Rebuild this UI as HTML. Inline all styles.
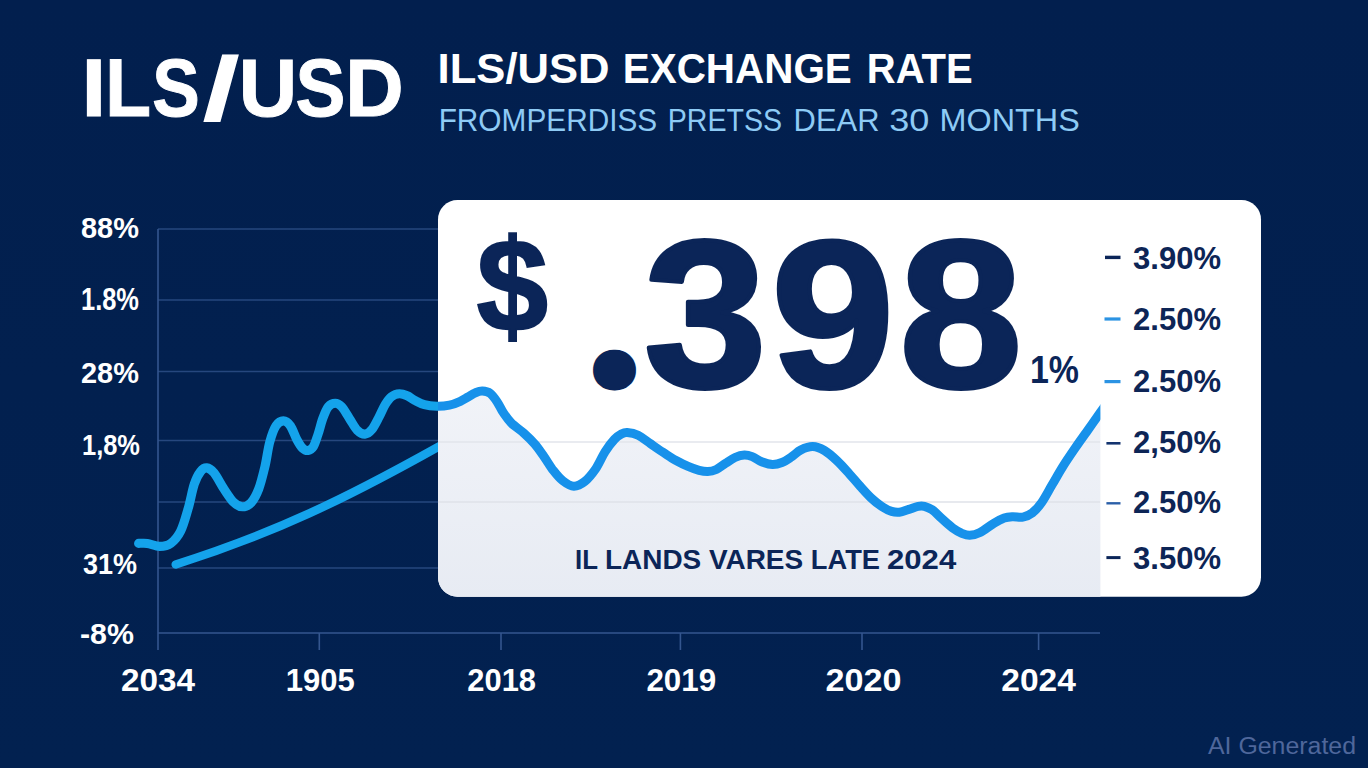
<!DOCTYPE html>
<html lang="en">
<head>
<meta charset="utf-8">
<title>ILS/USD Exchange Rate</title>
<style>
  html, body { margin: 0; padding: 0; background: #02204f; }
  body { width: 1368px; height: 768px; overflow: hidden; }
  svg { display: block; }
  text { font-family: "Liberation Sans", sans-serif; }
  .b { font-weight: 700; }
</style>
</head>
<body>
<svg width="1368" height="768" viewBox="0 0 1368 768">
  <defs>
    <linearGradient id="bg" x1="0" y1="0" x2="0" y2="1">
      <stop offset="0" stop-color="#021f4e"/>
      <stop offset="1" stop-color="#022150"/>
    </linearGradient>
    <linearGradient id="area" x1="0" y1="0" x2="0" y2="1">
      <stop offset="0" stop-color="#f1f3f8"/>
      <stop offset="1" stop-color="#e7ebf3"/>
    </linearGradient>
    <clipPath id="leftclip"><rect x="0" y="0" width="438" height="768"/></clipPath>
    <clipPath id="rightclip"><rect x="438" y="200" width="662.4" height="397"/></clipPath>
    <clipPath id="panelclip"><rect x="438" y="200" width="823" height="396.8" rx="19.5" ry="19.5"/></clipPath>
  </defs>
  <rect width="1368" height="768" fill="url(#bg)"/>

  <!-- headings -->
  <text class="b" fill="#ffffff" stroke="#ffffff" stroke-width="1"><tspan x="81.48" y="116" font-size="82" textLength="24.71" lengthAdjust="spacingAndGlyphs">I</tspan><tspan x="105.13" y="116" font-size="82" textLength="45.78" lengthAdjust="spacingAndGlyphs">L</tspan><tspan x="152.26" y="116" font-size="82" textLength="47.47" lengthAdjust="spacingAndGlyphs">S</tspan><tspan x="203.0" y="119.6" font-size="89.5" textLength="36.26" lengthAdjust="spacingAndGlyphs">/</tspan><tspan x="238.75" y="116" font-size="82" textLength="58.4" lengthAdjust="spacingAndGlyphs">U</tspan><tspan x="295.58" y="116" font-size="82" textLength="49.88" lengthAdjust="spacingAndGlyphs">S</tspan><tspan x="345.37" y="116" font-size="82" textLength="58.4" lengthAdjust="spacingAndGlyphs">D</tspan></text>
  <text class="b" y="83" font-size="42" fill="#ffffff"><tspan x="437.62" textLength="171.96" lengthAdjust="spacingAndGlyphs">ILS/USD</tspan> <tspan x="622.78" textLength="229.0" lengthAdjust="spacingAndGlyphs">EXCHANGE</tspan> <tspan x="866.79" textLength="105.97" lengthAdjust="spacingAndGlyphs">RATE</tspan></text>
  <text y="130.5" font-size="32" fill="#8ecbf5"><tspan x="438.64" textLength="218.61" lengthAdjust="spacingAndGlyphs">FROMPERDISS</tspan> <tspan x="667.71" textLength="114.49" lengthAdjust="spacingAndGlyphs">PRETSS</tspan> <tspan x="793.57" textLength="85.9" lengthAdjust="spacingAndGlyphs">DEAR</tspan> <tspan x="889.17" textLength="40.13" lengthAdjust="spacingAndGlyphs">30</tspan> <tspan x="939.58" textLength="140.18" lengthAdjust="spacingAndGlyphs">MONTHS</tspan></text>

  <!-- grid -->
  <g stroke="#26477e" stroke-width="1.4" fill="none">
    <line x1="158" y1="229" x2="438" y2="229"/>
    <line x1="158" y1="300" x2="438" y2="300"/>
    <line x1="158" y1="371.5" x2="438" y2="371.5"/>
    <line x1="158" y1="440.5" x2="438" y2="440.5"/>
    <line x1="158" y1="502" x2="438" y2="502"/>
    <line x1="158" y1="568" x2="438" y2="568"/>
  </g>
  <g stroke="#34568f" stroke-width="1.6" fill="none">
    <line x1="158" y1="229" x2="158" y2="650"/>
    <line x1="158" y1="633" x2="1100" y2="633"/>
    <line x1="319.3" y1="633" x2="319.3" y2="650"/>
    <line x1="501" y1="633" x2="501" y2="650"/>
    <line x1="680.4" y1="633" x2="680.4" y2="650"/>
    <line x1="862" y1="633" x2="862" y2="650"/>
    <line x1="1038.6" y1="633" x2="1038.6" y2="650"/>
  </g>

  <!-- y labels -->
  <g class="b" font-size="29" fill="#ffffff">
    <text x="81" y="238" textLength="58" lengthAdjust="spacingAndGlyphs">88%</text>
    <text x="81" y="310" font-size="30.5" textLength="58" lengthAdjust="spacingAndGlyphs">1.8%</text>
    <text x="81" y="383" textLength="58" lengthAdjust="spacingAndGlyphs">28%</text>
    <text x="82" y="455" textLength="58" lengthAdjust="spacingAndGlyphs">1,8%</text>
    <text x="83" y="573.5" textLength="54" lengthAdjust="spacingAndGlyphs">31%</text>
    <text x="80" y="644" textLength="54" lengthAdjust="spacingAndGlyphs">-8%</text>
  </g>

  <!-- x labels -->
  <g class="b" font-size="31" fill="#ffffff">
    <text x="121" y="691" textLength="74" lengthAdjust="spacingAndGlyphs">2034</text>
    <text x="285.7" y="691" textLength="69" lengthAdjust="spacingAndGlyphs">1905</text>
    <text x="467.3" y="691" textLength="68.7" lengthAdjust="spacingAndGlyphs">2018</text>
    <text x="646.4" y="691" textLength="69.8" lengthAdjust="spacingAndGlyphs">2019</text>
    <text x="825.5" y="691" textLength="76" lengthAdjust="spacingAndGlyphs">2020</text>
    <text x="1001.3" y="691" textLength="74.6" lengthAdjust="spacingAndGlyphs">2024</text>
  </g>

  <!-- lines left of panel -->
  <path id="trend" d="M175.7 564.5 C275 533 345 499 438 447 L446 442.6" stroke="#14a3eb" stroke-width="8.4" fill="none" stroke-linecap="round"/>

  <!-- panel -->
  <rect x="438" y="200" width="823" height="396.8" rx="19.5" ry="19.5" fill="#ffffff"/>
  <g clip-path="url(#panelclip)">
    <path d="M424.4 404.7 C426.5 405.0 432.7 406.2 436.9 406.3 C441.1 406.4 445.5 406.0 449.4 405.2 C453.3 404.4 457.2 402.7 460.3 401.3 C463.4 399.9 465.5 398.4 468.0 397.0 C470.5 395.6 472.9 393.8 475.3 392.8 C477.7 391.8 479.8 390.9 482.3 391.0 C484.8 391.1 487.7 391.5 490.2 393.3 C492.7 395.1 495.0 398.6 497.2 401.9 C499.4 405.1 501.0 409.3 503.4 412.8 C505.8 416.3 507.9 419.6 511.3 423.0 C514.7 426.4 519.9 429.6 523.8 433.1 C527.7 436.6 531.3 440.1 534.7 444.0 C538.1 447.9 540.9 452.2 544.0 456.6 C547.1 461.0 550.3 466.6 553.4 470.6 C556.5 474.6 559.4 478.2 562.8 480.8 C566.2 483.4 570.1 486.2 573.8 486.3 C577.4 486.4 581.1 484.5 584.7 481.6 C588.3 478.7 592.2 473.9 595.6 469.0 C599.0 464.1 601.9 456.8 605.0 451.9 C608.1 447.0 611.7 442.3 614.4 439.4 C617.1 436.4 618.9 435.3 621.0 434.2 C623.1 433.1 624.4 432.3 627.2 432.5 C630.1 432.7 634.2 433.3 638.1 435.2 C642.0 437.1 646.4 440.9 650.6 443.8 C654.8 446.7 658.9 449.6 663.1 452.3 C667.3 455.0 671.4 457.9 675.6 460.2 C679.8 462.5 684.2 464.7 688.1 466.4 C692.0 468.1 695.8 469.4 699.1 470.3 C702.4 471.2 704.8 471.7 707.7 471.6 C710.6 471.5 713.3 470.9 716.3 469.5 C719.3 468.1 722.5 465.3 725.6 463.3 C728.7 461.3 731.9 458.9 735.0 457.5 C738.1 456.1 741.5 455.1 744.4 455.0 C747.3 454.9 749.3 455.5 752.2 456.6 C755.1 457.7 758.2 460.4 761.6 461.7 C765.0 463.0 769.1 464.3 772.5 464.4 C775.9 464.5 778.8 463.7 781.9 462.5 C785.0 461.3 788.1 459.1 791.3 457.0 C794.5 454.9 797.4 451.6 801.0 449.9 C804.6 448.2 808.8 446.5 812.7 446.6 C816.6 446.7 820.4 448.2 824.4 450.5 C828.4 452.8 832.7 456.7 836.9 460.6 C841.1 464.5 845.5 469.6 849.4 473.9 C853.3 478.2 856.6 482.4 860.3 486.4 C863.9 490.4 867.6 494.7 871.3 498.1 C874.9 501.5 878.8 504.5 882.2 506.7 C885.6 508.9 888.7 510.5 891.6 511.4 C894.5 512.3 896.5 512.5 899.4 512.2 C902.3 511.9 905.7 510.4 908.8 509.4 C911.9 508.4 915.5 506.8 918.1 506.3 C920.7 505.8 922.0 505.7 924.4 506.3 C926.8 506.9 929.3 507.8 932.2 509.8 C935.1 511.8 938.2 515.4 941.6 518.4 C945.0 521.4 949.1 525.3 952.5 527.8 C955.9 530.3 959.0 532.0 961.9 533.3 C964.8 534.5 966.7 535.4 969.7 535.3 C972.7 535.2 976.0 534.5 980.0 532.5 C984.0 530.5 989.8 525.7 993.8 523.3 C997.8 520.9 1001.1 519.2 1004.2 518.1 C1007.3 517.0 1009.4 516.9 1012.5 516.7 C1015.6 516.5 1019.6 517.7 1022.9 517.1 C1026.2 516.5 1029.2 515.3 1032.3 512.9 C1035.4 510.5 1038.4 507.2 1041.7 502.5 C1045.0 497.8 1048.6 490.7 1052.1 484.8 C1055.6 478.9 1058.7 473.2 1062.5 467.1 C1066.3 461.0 1070.8 454.4 1075.0 448.3 C1079.2 442.2 1083.3 436.5 1087.5 430.6 C1091.7 424.7 1096.2 418.2 1100.0 412.9 C1103.8 407.6 1108.3 401.1 1110.0 398.7 L1110 600 L424.4 600 Z" fill="url(#area)" clip-path="url(#rightclip)"/>
    <line x1="438" y1="442" x2="1100" y2="442" stroke="#e2e4eb" stroke-width="1.3"/>
    <line x1="438" y1="502" x2="1100" y2="502" stroke="#dfe2e9" stroke-width="1.3"/>
  </g>

  <!-- main wavy line -->
  <path d="M138.6 543.4 C140.1 543.4 143.8 542.9 147.3 543.4 C150.8 543.9 155.8 546.4 159.7 546.4 C163.6 546.4 167.3 546.0 170.8 543.4 C174.3 540.8 177.8 536.8 180.7 531.0 C183.6 525.2 185.8 516.6 188.1 508.8 C190.4 501.0 192.2 490.2 194.3 484.0 C196.4 477.8 198.4 474.3 200.5 471.6 C202.6 468.9 204.4 467.7 206.7 467.9 C209.0 468.1 211.2 469.4 214.1 472.9 C217.0 476.4 220.7 484.1 224.0 489.0 C227.3 493.9 230.8 499.6 233.9 502.6 C237.0 505.6 239.7 506.8 242.6 506.8 C245.5 506.8 248.5 505.6 251.2 502.6 C253.9 499.6 256.4 495.0 258.7 489.0 C261.0 483.0 263.0 474.6 264.9 466.7 C266.8 458.8 267.9 448.7 269.8 441.9 C271.7 435.1 273.7 429.3 276.0 425.8 C278.3 422.3 281.0 420.9 283.4 420.9 C285.8 420.9 288.3 422.9 290.5 426.0 C292.7 429.1 294.8 435.8 296.8 439.5 C298.8 443.2 300.6 446.3 302.5 448.1 C304.4 449.9 306.2 450.8 308.0 450.5 C309.8 450.2 311.7 449.3 313.4 446.6 C315.1 443.9 316.5 438.8 318.1 434.1 C319.7 429.4 321.1 423.0 322.8 418.4 C324.5 413.8 326.2 409.2 328.3 406.7 C330.4 404.2 333.1 403.3 335.3 403.3 C337.5 403.3 339.2 404.2 341.6 406.7 C344.0 409.2 346.8 414.5 349.4 418.4 C352.0 422.3 354.6 427.6 357.2 430.2 C359.8 432.8 362.5 434.2 365.0 434.1 C367.5 434.0 369.6 432.3 372.0 429.4 C374.4 426.5 376.9 421.1 379.1 416.9 C381.3 412.7 383.2 407.8 385.3 404.4 C387.4 401.0 389.2 398.4 391.6 396.6 C394.0 394.8 396.8 393.9 399.4 393.8 C402.0 393.7 404.6 394.7 407.2 395.8 C409.8 396.9 412.1 399.0 415.0 400.5 C417.9 402.0 420.8 403.7 424.4 404.7 C428.0 405.7 432.7 406.2 436.9 406.3 C441.1 406.4 445.5 406.0 449.4 405.2 C453.3 404.4 457.2 402.7 460.3 401.3 C463.4 399.9 465.5 398.4 468.0 397.0 C470.5 395.6 472.9 393.8 475.3 392.8 C477.7 391.8 479.8 390.9 482.3 391.0 C484.8 391.1 487.7 391.5 490.2 393.3 C492.7 395.1 495.0 398.6 497.2 401.9 C499.4 405.1 501.0 409.3 503.4 412.8 C505.8 416.3 507.9 419.6 511.3 423.0 C514.7 426.4 519.9 429.6 523.8 433.1 C527.7 436.6 531.3 440.1 534.7 444.0 C538.1 447.9 540.9 452.2 544.0 456.6 C547.1 461.0 550.3 466.6 553.4 470.6 C556.5 474.6 559.4 478.2 562.8 480.8 C566.2 483.4 570.1 486.2 573.8 486.3 C577.4 486.4 581.1 484.5 584.7 481.6 C588.3 478.7 592.2 473.9 595.6 469.0 C599.0 464.1 601.9 456.8 605.0 451.9 C608.1 447.0 611.7 442.3 614.4 439.4 C617.1 436.4 618.9 435.3 621.0 434.2 C623.1 433.1 624.4 432.3 627.2 432.5 C630.1 432.7 634.2 433.3 638.1 435.2 C642.0 437.1 646.4 440.9 650.6 443.8 C654.8 446.7 658.9 449.6 663.1 452.3 C667.3 455.0 671.4 457.9 675.6 460.2 C679.8 462.5 684.2 464.7 688.1 466.4 C692.0 468.1 695.8 469.4 699.1 470.3 C702.4 471.2 704.8 471.7 707.7 471.6 C710.6 471.5 713.3 470.9 716.3 469.5 C719.3 468.1 722.5 465.3 725.6 463.3 C728.7 461.3 731.9 458.9 735.0 457.5 C738.1 456.1 741.5 455.1 744.4 455.0 C747.3 454.9 749.3 455.5 752.2 456.6 C755.1 457.7 758.2 460.4 761.6 461.7 C765.0 463.0 769.1 464.3 772.5 464.4 C775.9 464.5 778.8 463.7 781.9 462.5 C785.0 461.3 788.1 459.1 791.3 457.0 C794.5 454.9 797.4 451.6 801.0 449.9 C804.6 448.2 808.8 446.5 812.7 446.6 C816.6 446.7 820.4 448.2 824.4 450.5 C828.4 452.8 832.7 456.7 836.9 460.6 C841.1 464.5 845.5 469.6 849.4 473.9 C853.3 478.2 856.6 482.4 860.3 486.4 C863.9 490.4 867.6 494.7 871.3 498.1 C874.9 501.5 878.8 504.5 882.2 506.7 C885.6 508.9 888.7 510.5 891.6 511.4 C894.5 512.3 896.5 512.5 899.4 512.2 C902.3 511.9 905.7 510.4 908.8 509.4 C911.9 508.4 915.5 506.8 918.1 506.3 C920.7 505.8 922.0 505.7 924.4 506.3 C926.8 506.9 929.3 507.8 932.2 509.8 C935.1 511.8 938.2 515.4 941.6 518.4 C945.0 521.4 949.1 525.3 952.5 527.8 C955.9 530.3 959.0 532.0 961.9 533.3 C964.8 534.5 966.7 535.4 969.7 535.3 C972.7 535.2 976.0 534.5 980.0 532.5 C984.0 530.5 989.8 525.7 993.8 523.3 C997.8 520.9 1001.1 519.2 1004.2 518.1 C1007.3 517.0 1009.4 516.9 1012.5 516.7 C1015.6 516.5 1019.6 517.7 1022.9 517.1 C1026.2 516.5 1029.2 515.3 1032.3 512.9 C1035.4 510.5 1038.4 507.2 1041.7 502.5 C1045.0 497.8 1048.6 490.7 1052.1 484.8 C1055.6 478.9 1058.7 473.2 1062.5 467.1 C1066.3 461.0 1070.8 454.4 1075.0 448.3 C1079.2 442.2 1083.3 436.5 1087.5 430.6 C1091.7 424.7 1096.2 418.2 1100.0 412.9 C1103.8 407.6 1108.3 401.1 1110.0 398.7" stroke="#14a3eb" stroke-width="9.1" fill="none" stroke-linecap="round" stroke-linejoin="round" clip-path="url(#leftclip)"/>
  <path d="M138.6 543.4 C140.1 543.4 143.8 542.9 147.3 543.4 C150.8 543.9 155.8 546.4 159.7 546.4 C163.6 546.4 167.3 546.0 170.8 543.4 C174.3 540.8 177.8 536.8 180.7 531.0 C183.6 525.2 185.8 516.6 188.1 508.8 C190.4 501.0 192.2 490.2 194.3 484.0 C196.4 477.8 198.4 474.3 200.5 471.6 C202.6 468.9 204.4 467.7 206.7 467.9 C209.0 468.1 211.2 469.4 214.1 472.9 C217.0 476.4 220.7 484.1 224.0 489.0 C227.3 493.9 230.8 499.6 233.9 502.6 C237.0 505.6 239.7 506.8 242.6 506.8 C245.5 506.8 248.5 505.6 251.2 502.6 C253.9 499.6 256.4 495.0 258.7 489.0 C261.0 483.0 263.0 474.6 264.9 466.7 C266.8 458.8 267.9 448.7 269.8 441.9 C271.7 435.1 273.7 429.3 276.0 425.8 C278.3 422.3 281.0 420.9 283.4 420.9 C285.8 420.9 288.3 422.9 290.5 426.0 C292.7 429.1 294.8 435.8 296.8 439.5 C298.8 443.2 300.6 446.3 302.5 448.1 C304.4 449.9 306.2 450.8 308.0 450.5 C309.8 450.2 311.7 449.3 313.4 446.6 C315.1 443.9 316.5 438.8 318.1 434.1 C319.7 429.4 321.1 423.0 322.8 418.4 C324.5 413.8 326.2 409.2 328.3 406.7 C330.4 404.2 333.1 403.3 335.3 403.3 C337.5 403.3 339.2 404.2 341.6 406.7 C344.0 409.2 346.8 414.5 349.4 418.4 C352.0 422.3 354.6 427.6 357.2 430.2 C359.8 432.8 362.5 434.2 365.0 434.1 C367.5 434.0 369.6 432.3 372.0 429.4 C374.4 426.5 376.9 421.1 379.1 416.9 C381.3 412.7 383.2 407.8 385.3 404.4 C387.4 401.0 389.2 398.4 391.6 396.6 C394.0 394.8 396.8 393.9 399.4 393.8 C402.0 393.7 404.6 394.7 407.2 395.8 C409.8 396.9 412.1 399.0 415.0 400.5 C417.9 402.0 420.8 403.7 424.4 404.7 C428.0 405.7 432.7 406.2 436.9 406.3 C441.1 406.4 445.5 406.0 449.4 405.2 C453.3 404.4 457.2 402.7 460.3 401.3 C463.4 399.9 465.5 398.4 468.0 397.0 C470.5 395.6 472.9 393.8 475.3 392.8 C477.7 391.8 479.8 390.9 482.3 391.0 C484.8 391.1 487.7 391.5 490.2 393.3 C492.7 395.1 495.0 398.6 497.2 401.9 C499.4 405.1 501.0 409.3 503.4 412.8 C505.8 416.3 507.9 419.6 511.3 423.0 C514.7 426.4 519.9 429.6 523.8 433.1 C527.7 436.6 531.3 440.1 534.7 444.0 C538.1 447.9 540.9 452.2 544.0 456.6 C547.1 461.0 550.3 466.6 553.4 470.6 C556.5 474.6 559.4 478.2 562.8 480.8 C566.2 483.4 570.1 486.2 573.8 486.3 C577.4 486.4 581.1 484.5 584.7 481.6 C588.3 478.7 592.2 473.9 595.6 469.0 C599.0 464.1 601.9 456.8 605.0 451.9 C608.1 447.0 611.7 442.3 614.4 439.4 C617.1 436.4 618.9 435.3 621.0 434.2 C623.1 433.1 624.4 432.3 627.2 432.5 C630.1 432.7 634.2 433.3 638.1 435.2 C642.0 437.1 646.4 440.9 650.6 443.8 C654.8 446.7 658.9 449.6 663.1 452.3 C667.3 455.0 671.4 457.9 675.6 460.2 C679.8 462.5 684.2 464.7 688.1 466.4 C692.0 468.1 695.8 469.4 699.1 470.3 C702.4 471.2 704.8 471.7 707.7 471.6 C710.6 471.5 713.3 470.9 716.3 469.5 C719.3 468.1 722.5 465.3 725.6 463.3 C728.7 461.3 731.9 458.9 735.0 457.5 C738.1 456.1 741.5 455.1 744.4 455.0 C747.3 454.9 749.3 455.5 752.2 456.6 C755.1 457.7 758.2 460.4 761.6 461.7 C765.0 463.0 769.1 464.3 772.5 464.4 C775.9 464.5 778.8 463.7 781.9 462.5 C785.0 461.3 788.1 459.1 791.3 457.0 C794.5 454.9 797.4 451.6 801.0 449.9 C804.6 448.2 808.8 446.5 812.7 446.6 C816.6 446.7 820.4 448.2 824.4 450.5 C828.4 452.8 832.7 456.7 836.9 460.6 C841.1 464.5 845.5 469.6 849.4 473.9 C853.3 478.2 856.6 482.4 860.3 486.4 C863.9 490.4 867.6 494.7 871.3 498.1 C874.9 501.5 878.8 504.5 882.2 506.7 C885.6 508.9 888.7 510.5 891.6 511.4 C894.5 512.3 896.5 512.5 899.4 512.2 C902.3 511.9 905.7 510.4 908.8 509.4 C911.9 508.4 915.5 506.8 918.1 506.3 C920.7 505.8 922.0 505.7 924.4 506.3 C926.8 506.9 929.3 507.8 932.2 509.8 C935.1 511.8 938.2 515.4 941.6 518.4 C945.0 521.4 949.1 525.3 952.5 527.8 C955.9 530.3 959.0 532.0 961.9 533.3 C964.8 534.5 966.7 535.4 969.7 535.3 C972.7 535.2 976.0 534.5 980.0 532.5 C984.0 530.5 989.8 525.7 993.8 523.3 C997.8 520.9 1001.1 519.2 1004.2 518.1 C1007.3 517.0 1009.4 516.9 1012.5 516.7 C1015.6 516.5 1019.6 517.7 1022.9 517.1 C1026.2 516.5 1029.2 515.3 1032.3 512.9 C1035.4 510.5 1038.4 507.2 1041.7 502.5 C1045.0 497.8 1048.6 490.7 1052.1 484.8 C1055.6 478.9 1058.7 473.2 1062.5 467.1 C1066.3 461.0 1070.8 454.4 1075.0 448.3 C1079.2 442.2 1083.3 436.5 1087.5 430.6 C1091.7 424.7 1096.2 418.2 1100.0 412.9 C1103.8 407.6 1108.3 401.1 1110.0 398.7" stroke="#1791ea" stroke-width="9" fill="none" stroke-linecap="round" stroke-linejoin="round" clip-path="url(#rightclip)"/>

  <!-- big number -->
  <g class="b" fill="#0b2558">
    <text x="476.52" y="330.6" font-size="131.5" stroke="#0b2558" stroke-width="2" textLength="71.59" lengthAdjust="spacingAndGlyphs">$</text>
    <text y="387" font-size="209" transform="scale(1.06,1)" stroke="#0b2558" stroke-width="4" stroke-linejoin="round"><tspan x="578.3" y="370.7" font-size="10" stroke-width="39">.</tspan><tspan x="607.3 727.7 848.4" y="387">398</tspan></text>
    <text x="1030" y="382.5" font-size="38" textLength="49" lengthAdjust="spacingAndGlyphs">1%</text>
    <text y="569.3" font-size="28"><tspan x="575.1" textLength="22.5" lengthAdjust="spacingAndGlyphs">IL</tspan> <tspan x="605.0" textLength="96.27" lengthAdjust="spacingAndGlyphs">LANDS</tspan> <tspan x="708.9" textLength="94.27" lengthAdjust="spacingAndGlyphs">VARES</tspan> <tspan x="810.83" textLength="69.13" lengthAdjust="spacingAndGlyphs">LATE</tspan> <tspan x="887.0" textLength="69.22" lengthAdjust="spacingAndGlyphs">2024</tspan></text>
  </g>

  <!-- right legend -->
  <g stroke-linecap="butt" fill="none">
    <line x1="1105" y1="257.4" x2="1120.5" y2="257.4" stroke="#0b2558" stroke-width="3.4"/>
    <line x1="1104.5" y1="319" x2="1120.5" y2="319" stroke="#2b93e3" stroke-width="3.2"/>
    <line x1="1104.5" y1="381.6" x2="1120.5" y2="381.6" stroke="#2b93e3" stroke-width="3.2"/>
    <line x1="1106.4" y1="443.3" x2="1120.5" y2="443.3" stroke="#14346f" stroke-width="2.6"/>
    <line x1="1106.4" y1="503.3" x2="1120.5" y2="503.3" stroke="#2b5fa8" stroke-width="2.4"/>
    <line x1="1106.4" y1="557.6" x2="1120.5" y2="557.6" stroke="#0b2558" stroke-width="3"/>
  </g>
  <g class="b" font-size="30.5" fill="#0d2556">
    <text x="1133" y="268.7" textLength="88" lengthAdjust="spacingAndGlyphs">3.90%</text>
    <text x="1133" y="329.6" textLength="88" lengthAdjust="spacingAndGlyphs">2.50%</text>
    <text x="1133" y="392" textLength="88" lengthAdjust="spacingAndGlyphs">2.50%</text>
    <text x="1133" y="453.4" textLength="88" lengthAdjust="spacingAndGlyphs">2,50%</text>
    <text x="1133" y="513" textLength="88" lengthAdjust="spacingAndGlyphs">2.50%</text>
    <text x="1133" y="569" textLength="88" lengthAdjust="spacingAndGlyphs">3.50%</text>
  </g>

  <!-- watermark -->
  <text x="1208" y="753.6" font-size="23" fill="#4f679b" textLength="148" lengthAdjust="spacingAndGlyphs">AI Generated</text>
</svg>
</body>
</html>
